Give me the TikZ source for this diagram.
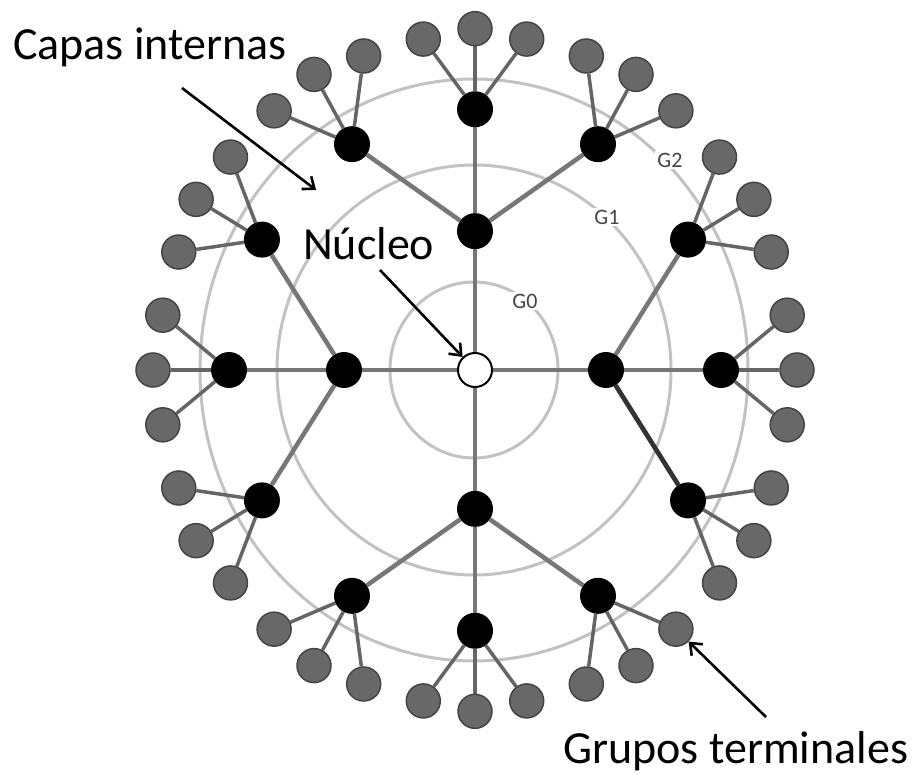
\documentclass[tikz,border=0pt]{standalone}
\usepackage{fontspec}
\setmainfont{Carlito}
\usetikzlibrary{arrows.meta}
\pgfdeclarelayer{background}
\pgfsetlayers{background,main}
\definecolor{termgray}{HTML}{686868}
\definecolor{termedge}{HTML}{444444}
\definecolor{bondgray}{HTML}{777777}
\definecolor{ringgray}{HTML}{C2C2C2}
\definecolor{labelgray}{HTML}{454545}
\begin{document}
\begin{tikzpicture}[x=1pt,y=-1pt,
  inner/.style={circle,fill=black,minimum size=36pt,inner sep=0pt},
  term/.style={circle,fill=termgray,draw=termedge,line width=1.5pt,minimum size=34pt,inner sep=0pt},
  core/.style={circle,fill=white,draw=black,line width=2pt,minimum size=34pt,inner sep=0pt},
  bond/.style={draw=bondgray,line width=4.5pt},
  tbond/.style={draw=bondgray!85!black,line width=3.5pt},
  ring/.style={draw=ringgray,line width=3pt},
  callout/.style={draw=black,line width=2.6pt,-{Straight Barb[length=10pt,width=16pt,line width=2.6pt]}},
  caption/.style={font=\fontsize{46}{54}\selectfont,anchor=base west,inner sep=0pt},
  genlabel/.style={font=\fontsize{22}{24}\selectfont,text=labelgray,fill=white,inner sep=2pt}
]
\useasboundingbox (0,0) rectangle (915,775);

% core
\node[core] (core) at (475,370) {};

% generations: 4 branches, each with 3 sub-branches, each with 3 end groups
\foreach \i in {0,1,2,3}{
  \pgfmathsetmacro\a{90*\i}
  \node[inner] (g1-\i) at ({475+131*cos(\a)},{370-1.06*131*sin(\a)}) {};
  \foreach \j/\dj in {0/-30,1/0,2/30}{
    \pgfmathsetmacro\b{\a+\dj}
    \pgfmathsetmacro\gx{475+246*cos(\b)}
    \pgfmathsetmacro\gy{370-1.06*246*sin(\b)}
    \node[inner] (g2-\i-\j) at (\gx,\gy) {};
    \foreach \k/\dk/\d in {0/-38/84,1/0/76,2/38/84}{
      \pgfmathsetmacro\c{\b+\dk}
      \node[term] (t-\i-\j-\k) at ({\gx+\d*cos(\c)},{\gy-1.06*\d*sin(\c)}) {};
    }
  }
}

% layer rings and bonds behind the spheres
\begin{pgfonlayer}{background}
  \draw[ring] (474,370) ellipse [x radius=84, y radius=88];
  \draw[ring] (474,370) ellipse [x radius=197, y radius=205];
  \draw[ring] (474,370) ellipse [x radius=274, y radius=291];
  \foreach \i in {0,1,2,3}{
    \draw[bond] (core) -- (g1-\i);
    \foreach \j in {0,1,2}{
      \draw[bond] (g1-\i) -- (g2-\i-\j);
      \foreach \k in {0,1,2}
        \draw[tbond] (g2-\i-\j) -- (t-\i-\j-\k);
    }
  }
  \draw[bond,draw=black!80] (g1-0) -- (g2-0-0);
\end{pgfonlayer}

% generation labels
\node[genlabel] (lg0) at (525,301) {G0};
\node[genlabel] (lg1) at (607,217) {G1};
\node[genlabel] (lg2) at (670,160) {G2};

% captions and callouts
\node[caption] (capas) at (13,60) {Capas internas};
\node[caption] (nucleo) at (303,260) {Núcleo};
\node[caption] (grupos) at (563,763) {Grupos terminales};

\coordinate (capasfrom) at (182,88);
\coordinate (capasto) at (316,190);
\coordinate (nucfrom) at (380,270);
\coordinate (gruposfrom) at (766,717);
\draw[callout] (capasfrom) -- (capasto);
\draw[callout] (nucfrom) -- (core);
\draw[callout] (gruposfrom) -- (t-3-2-2);
\end{tikzpicture}
\end{document}
